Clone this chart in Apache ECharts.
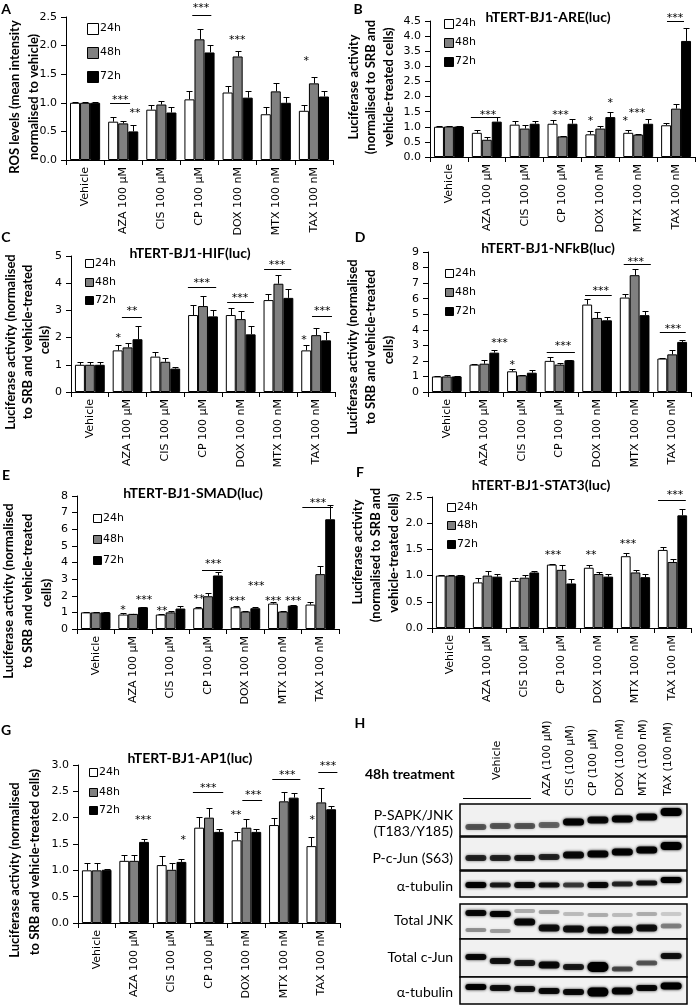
<!DOCTYPE html>
<html><head><meta charset="utf-8">
<script src="https://cdn.jsdelivr.net/npm/echarts@6/dist/echarts.min.js"></script>
<style>html,body{margin:0;padding:0;background:#fff}#c{width:696px;height:1005px}</style>
</head><body><div id="c"></div>
<script>
// ---------- DATA ----------
const categories = ['Vehicle','AZA 100 µM','CIS 100 µM','CP 100 µM','DOX 100 nM','MTX 100 nM','TAX 100 nM'];
const timepoints = ['24h','48h','72h'];

// A: ROS
const A_24 = [1.00,0.67,0.88,1.06,1.18,0.80,0.86];
const A_48 = [1.00,0.64,0.97,2.11,1.81,1.20,1.34];
const A_72 = [1.00,0.50,0.83,1.88,1.09,1.00,1.11];
const A_24err = [0.02,0.08,0.08,0.14,0.12,0.13,0.11];
const A_48err = [0.02,0.04,0.06,0.18,0.10,0.15,0.11];
const A_72err = [0.02,0.11,0.10,0.13,0.12,0.11,0.10];
const A_stars = [[0.92,1.10,'***'],[1.31,0.87,'**'],[3.04,2.71,'***'],[3.99,2.15,'***'],[5.80,1.78,'*']];
const A_lines = [[0.655,1.18,1.00],[2.81,3.31,2.53]];

// B: ARE
const B_24 = [1.00,0.80,1.07,1.10,0.75,0.80,1.05];
const B_48 = [1.01,0.57,0.94,0.68,0.94,0.74,1.60];
const B_72 = [1.01,1.17,1.10,1.10,1.32,1.10,3.84];
const B_24err = [0.01,0.08,0.12,0.11,0.10,0.10,0.07];
const B_48err = [0.02,0.09,0.11,0.03,0.09,0.01,0.14];
const B_72err = [0.02,0.17,0.09,0.17,0.17,0.15,0.43];
const B_stars = [[1.03,1.49,'***'],[2.95,1.49,'***'],[3.74,1.29,'*'],[4.26,1.89,'*'],[4.66,1.29,'*'],[4.97,1.56,'***'],[5.97,4.70,'***']];
const B_lines = [[0.58,1.29,1.32],[5.76,6.21,4.5]];

// C: HIF
const C_24 = [1.00,1.53,1.30,2.83,2.83,3.38,1.53];
const C_48 = [1.00,1.64,1.11,3.16,2.68,3.98,2.09];
const C_72 = [1.00,1.94,0.86,2.78,2.12,3.46,1.90];
const C_24err = [0.10,0.19,0.18,0.37,0.24,0.21,0.19];
const C_48err = [0.10,0.15,0.15,0.37,0.28,0.33,0.26];
const C_72err = [0.10,0.47,0.07,0.23,0.29,0.33,0.29];
const C_stars = [[0.75,2.10,'*'],[1.12,3.09,'**'],[2.97,4.12,'***'],[3.98,3.57,'***'],[4.96,4.78,'***'],[5.68,2.02,'*'],[6.16,3.09,'***']];
const C_lines = [[0.85,1.38,2.76],[2.60,3.35,3.86],[3.64,4.35,3.31],[4.62,5.34,4.52],[5.89,6.42,2.79]];

// D: NFkB
const D_24 = [1.00,1.76,1.33,2.00,5.62,6.07,2.15];
const D_48 = [1.00,1.82,1.07,1.76,4.76,7.51,2.42];
const D_72 = [1.00,2.53,1.24,2.04,4.61,4.94,3.22];
const D_24err = [0.05,0.06,0.13,0.25,0.35,0.26,0.06];
const D_48err = [0.12,0.22,0.02,0.13,0.39,0.37,0.31];
const D_72err = [0.05,0.15,0.15,0.04,0.22,0.25,0.15];
const D_stars = [[1.40,3.34,'***'],[1.74,1.93,'*'],[3.09,3.15,'***'],[4.10,6.68,'***'],[5.03,8.55,'***'],[6.02,4.24,'***']];
const D_lines = [[2.66,3.41,2.57],[3.68,4.39,6.24],[4.71,5.43,8.23],[5.67,6.36,3.86]];

// E: SMAD
const E_24 = [1.00,0.87,0.87,1.25,1.31,1.53,1.47];
const E_48 = [1.00,0.91,1.00,1.97,1.05,1.05,3.30];
const E_72 = [1.00,1.31,1.23,3.22,1.25,1.41,6.60];
const E_24err = [0.03,0.08,0.06,0.06,0.06,0.07,0.16];
const E_48err = [0.03,0.02,0.07,0.20,0.05,0.02,0.48];
const E_72err = [0.03,0.02,0.18,0.20,0.05,0.06,0.86];
const E_stars = [[0.73,1.33,'*'],[1.29,1.93,'***'],[1.77,1.27,'**'],[2.76,1.99,'**'],[3.14,4.10,'***'],[3.78,1.87,'***'],[4.29,2.77,'***'],[4.74,1.87,'***'],[5.28,1.87,'***'],[5.94,7.77,'***']];
const E_lines = [[2.84,3.40,3.55],[5.52,6.34,7.35]];

// F: STAT3
const F_24 = [1.00,0.87,0.90,1.21,1.15,1.37,1.49];
const F_48 = [1.00,1.00,0.96,1.11,1.03,1.06,1.26];
const F_72 = [1.00,0.98,1.06,0.85,0.98,0.97,2.15];
const F_24err = [0.02,0.08,0.06,0.01,0.05,0.07,0.05];
const F_48err = [0.02,0.09,0.05,0.09,0.03,0.04,0.05];
const F_72err = [0.02,0.05,0.02,0.09,0.05,0.06,0.13];
const F_stars = [[2.77,1.45,'***'],[3.80,1.45,'**'],[4.80,1.66,'***'],[6.07,2.60,'***']];
const F_lines = [[5.61,6.36,2.44]];

// G: AP1
const G_24 = [1.00,1.18,1.10,1.81,1.57,1.86,1.46];
const G_48 = [1.00,1.18,1.01,2.00,1.81,2.31,2.29];
const G_72 = [1.01,1.54,1.16,1.73,1.73,2.38,2.16];
const G_24err = [0.13,0.12,0.17,0.21,0.16,0.14,0.18];
const G_48err = [0.13,0.12,0.13,0.19,0.16,0.17,0.28];
const G_72err = [0.01,0.05,0.06,0.06,0.06,0.09,0.07];
const G_stars = [[1.24,2.01,'***'],[2.31,1.63,'*'],[2.98,2.62,'***'],[3.72,2.11,'**'],[4.18,2.49,'***'],[5.09,2.87,'***'],[5.76,2.01,'*'],[6.18,3.04,'***']];
const G_lines = [[2.57,3.38,2.49],[3.89,4.42,2.33],[4.69,5.44,2.73],[5.92,6.43,2.87]];

// H: western blot band intensities (0 = none, 1 = darkest), 9 lanes
const blotLanes = ['Vehicle','Vehicle','Vehicle','AZA (100 µM)','CIS (100 µM)','CP (100 µM)','DOX (100 nM)','MTX (100 nM)','TAX (100 nM)'];
const H_pSAPK   = [0.55,0.55,0.55,0.50,0.95,0.90,0.95,0.95,1.00];
const H_pcJun   = [0.75,0.75,0.80,0.75,0.90,0.95,0.95,0.95,1.00];
const H_tub1    = [0.95,0.80,0.90,0.85,0.65,0.90,0.75,0.85,1.00];
const H_JNKup   = [0.90,0.95,0.25,0.30,0.20,0.25,0.20,0.25,0.15];
const H_JNKlow  = [0.35,0.30,0.90,0.85,0.85,0.90,0.90,0.85,0.40];
const H_cJun    = [0.90,0.85,0.80,0.90,0.80,1.00,0.60,0.55,0.85];
const H_tub2    = [0.95,0.85,0.85,0.90,0.90,1.00,0.95,0.90,1.00];

// ---------- LAYOUT ----------
const FONT = 'DejaVu Sans';
const panels = [
  {d:[A_24,A_48,A_72,A_24err,A_48err,A_72err,A_stars,A_lines], g:[66,17,267,143], max:2.5, iv:0.5, dec:1, lg:[87,[28,52,76],11]},
  {d:[B_24,B_48,B_72,B_24err,B_48err,B_72err,B_stars,B_lines], g:[430,21,265,136], max:4.5, iv:0.5, dec:1, lg:[444,[23,42,61],9]},
  {d:[C_24,C_48,C_72,C_24err,C_48err,C_72err,C_stars,C_lines], g:[71,256,264,136], max:5, iv:1, dec:0, lg:[85,[263,282,300],8]},
  {d:[D_24,D_48,D_72,D_24err,D_48err,D_72err,D_stars,D_lines], g:[428,252,263,140], max:9, iv:1, dec:0, lg:[445,[273,292,311],8]},
  {d:[E_24,E_48,E_72,E_24err,E_48err,E_72err,E_stars,E_lines], g:[77,496,262,133], max:8, iv:1, dec:0, lg:[93,[518,539,560],8]},
  {d:[F_24,F_48,F_72,F_24err,F_48err,F_72err,F_stars,F_lines], g:[432,497,259,131], max:2.5, iv:0.5, dec:1, lg:[447,[507,525,544],8]},
  {d:[G_24,G_48,G_72,G_24err,G_48err,G_72err,G_stars,G_lines], g:[78,765,262,158], max:3.0, iv:0.5, dec:1, lg:[89,[772,792,810],8]}
];
const barColors = ['#ffffff','#808080','#000000'];
const BW = 0.79/3;

const option = {animation:false, grid:[], xAxis:[], yAxis:[], series:[], graphic:[]};
const G = option.graphic;
function txt(x,y,text,font,align,rot){
  G.push({type:'text', x:x, y:y, rotation:rot||0, silent:true,
    style:{text:text, font:font, fill:'#000', align:align||'center', verticalAlign:'middle'}});
}

panels.forEach((P, p) => {
  option.grid.push({left:P.g[0], top:P.g[1], width:P.g[2], height:P.g[3], containLabel:false});
  option.xAxis.push({type:'category', gridIndex:p, data:categories,
    axisLine:{onZero:false, lineStyle:{color:'#000', width:1}},
    axisTick:{show:true, length:5, lineStyle:{color:'#000'}},
    axisLabel:{rotate:90, interval:0, fontFamily:FONT, fontSize:11, color:'#000', margin:7},
    splitLine:{show:false}});
  option.xAxis.push({type:'value', gridIndex:p, min:-0.5, max:6.5, show:false, axisLine:{onZero:false}});
  option.yAxis.push({type:'value', gridIndex:p, min:0, max:P.max, interval:P.iv,
    axisLine:{show:true, onZero:false, lineStyle:{color:'#000', width:1}},
    axisTick:{show:true, length:5, lineStyle:{color:'#000'}},
    axisLabel:{fontFamily:FONT, fontSize:11, color:'#000', margin:9, formatter:v=>v.toFixed(P.dec)},
    splitLine:{show:false}});
  const [v24,v48,v72,e24,e48,e72,stars,lines] = P.d;
  const vals=[v24,v48,v72], errs=[e24,e48,e72];
  vals.forEach((v,k)=>{
    option.series.push({type:'bar', name:timepoints[k], xAxisIndex:2*p, yAxisIndex:p, data:v,
      barGap:'0%', barCategoryGap:'21%', silent:true,
      itemStyle:{color:barColors[k], borderColor:'#000', borderWidth:1}});
  });
  const errData=[];
  vals.forEach((v,k)=>v.forEach((m,i)=>errData.push([i+(k-1)*BW, m, m+errs[k][i]])));
  option.series.push({type:'custom', xAxisIndex:2*p+1, yAxisIndex:p, data:errData, silent:true, clip:false, z:5,
    itemStyle:{color:'#000'},
    renderItem:(params, api)=>{
      const a=api.coord([api.value(0),api.value(1)]), b=api.coord([api.value(0),api.value(2)]);
      const x=Math.round(a[0])+0.5, yb=Math.round(b[1])+0.5;
      return {type:'group', children:[
        {type:'line', shape:{x1:x,y1:a[1],x2:x,y2:yb}, style:{stroke:'#000',lineWidth:1}},
        {type:'line', shape:{x1:x-3,y1:yb,x2:x+3,y2:yb}, style:{stroke:'#000',lineWidth:1}}]};
    }});
  option.series.push({type:'custom', xAxisIndex:2*p+1, yAxisIndex:p, data:stars.map(s=>[s[0],s[1]]), silent:true, clip:false, z:6,
    itemStyle:{color:'#000'},
    renderItem:(params, api)=>{
      const c=api.coord([api.value(0),api.value(1)]);
      return {type:'text', x:c[0], y:c[1]+3, style:{text:stars[params.dataIndex][2], font:'11px "DejaVu Sans"', fill:'#000',
        align:'center', verticalAlign:'middle'}};
    }});
  option.series.push({type:'custom', xAxisIndex:2*p+1, yAxisIndex:p, data:lines, silent:true, clip:false, z:6,
    itemStyle:{color:'#000'},
    renderItem:(params, api)=>{
      const a=api.coord([api.value(0),api.value(2)]), b=api.coord([api.value(1),api.value(2)]);
      const y=Math.round(a[1])+0.5;
      return {type:'line', shape:{x1:a[0],y1:y,x2:b[0],y2:y}, style:{stroke:'#000',lineWidth:1}};
    }});
  // legend keys
  const lx=P.lg[0], s=P.lg[2];
  P.lg[1].forEach((yc,k)=>{
    G.push({type:'rect', silent:true, shape:{x:lx+0.5, y:Math.round(yc-s/2)+0.5, width:s, height:s},
      style:{fill:barColors[k], stroke:'#000', lineWidth:1}});
    txt(lx+s+2, yc, timepoints[k], '11px "DejaVu Sans"', 'left');
  });
});

// ---------- BLOT (panel H) ----------
const blotRows = [
  {v:H_pSAPK,  y:[23,22,22,21,18,16,15,13,8],         h:[6,6,6,6,7,7,7,7,8]},
  {v:H_pcJun,  y:[54,54,54,53,51,50,48,46,42],         h:[6,6,6,6,7,7,7,7,8]},
  {v:H_tub1,   y:[81,81,81,81,81,81,80,79,76],         h:[6,5,6,5,5,6,5,5,6]},
  {v:H_JNKup,  y:[109,110,107,108,110,111,111,110,110],h:[6,6,4,4,4,4,4,4,4]},
  {v:H_JNKlow, y:[126,127,118,124,125,126,126,124,122],h:[4,4,7,7,7,7,7,7,5]},
  {v:H_cJun,   y:[153,157,159,161,163,163,165,159,152],h:[6,6,6,7,6,10,5,5,6]},
  {v:H_tub2,   y:[183,184,185,187,188,188,187,184,182],h:[6,6,6,6,6,9,7,6,7]}
];
const blotBoxes = [[0,32],[33,66],[67,93],[100,135],[135,173],[173,200]];
option.grid.push({left:460, top:804, width:227, height:201});
option.xAxis.push({type:'value', gridIndex:7, min:0.35, max:9.65, show:false, axisLine:{onZero:false}});
option.yAxis.push({type:'value', gridIndex:7, min:0, max:201, inverse:true, show:false, axisLine:{onZero:false}});
option.series.push({type:'custom', xAxisIndex:14, yAxisIndex:7, data:blotBoxes, silent:true, clip:false, z:1,
  renderItem:(params, api)=>{
    const a=api.coord([0.35,api.value(0)]), b=api.coord([9.65,api.value(1)]);
    return {type:'rect', shape:{x:a[0],y:a[1],width:b[0]-a[0],height:b[1]-a[1]}, style:{fill:'#f1f1f1',stroke:'#000',lineWidth:1.5}};
  }});
const bandData=[], bandH=[];
blotRows.forEach(r=>r.v.forEach((val,i)=>{bandData.push([i+1, r.y[i], val]); bandH.push(r.h[i]);}));
option.series.push({type:'custom', xAxisIndex:14, yAxisIndex:7, data:bandData, silent:true, clip:false, z:2,
  renderItem:(params, api)=>{
    const c=api.coord([api.value(0),api.value(1)]), a=api.value(2), h=bandH[params.dataIndex];
    const col='rgba(0,0,0,'+a+')';
    return {type:'rect', shape:{x:c[0]-10.5,y:c[1]-h/2,width:21,height:h,r:h/2},
      style:{fill:col, shadowBlur:3, shadowColor:col}};
  }});

// ---------- TEXT ----------
const letterFont = 'bold 14px Lato';
[['A',6,9],['B',358,9],['C',6,237],['D',360,237],['E',6,475],['F',360,472],['G',6,730],['H',360,723]].forEach(l=>txt(l[1],l[2],l[0],letterFont));
const titleFont = 'bold 14px Lato';
[['hTERT-BJ1-ARE(luc)',548,17],['hTERT-BJ1-HIF(luc)',190,253],['hTERT-BJ1-NFkB(luc)',548,248],
 ['hTERT-BJ1-SMAD(luc)',193,493],['hTERT-BJ1-STAT3(luc)',541,485],['hTERT-BJ1-AP1(luc)',190,758]].forEach(t=>txt(t[1],t[2],t[0],titleFont));
const yt = 'bold 13px Lato', R = Math.PI/2;
[[15,97,'ROS levels (mean intensity'],[34,97,'normalised to vehicle)'],
 [354,87,'Luciferase activity'],[371,87,'(normalised to SRB and'],[389,87,'vehicle-treated cells)'],
 [11,342,'Luciferase activity (normalised'],[28,342,'to SRB and vehicle-treated'],[45,340,'cells)'],
 [353,347,'Luciferase activity (normalised'],[371,347,'to SRB and vehicle-treated'],[389,350,'cells)'],
 [9,591,'Luciferase activity (normalised'],[28,591,'to SRB and vehicle-treated'],[47,593,'cells)'],
 [358,552,'Luciferase activity'],[376,555,'(normalised to SRB and'],[394,553,'vehicle-treated cells)'],
 [15,870,'Luciferase activity (normalised'],[35,862,'to SRB and vehicle-treated cells)']
].forEach(t=>txt(t[0],t[1],t[2],yt,'center',R));

// blot labels
txt(365,774,'48h treatment','bold 14px Lato','left');
const rowFont = '14px Lato';
[['P-SAPK/JNK',815],['(T183/Y185)',831],['P-c-Jun (S63)',858],['α-tubulin',886],['Total JNK',920],['Total c-Jun',957],['α-tubulin',992]]
  .forEach(r=>txt(453,r[1],r[0],rowFont,'right'));
const laneFont = '11px "DejaVu Sans"';
txt(497,780,'Vehicle',laneFont,'left',R);
[[547,3],[570,4],[593,5],[620,6],[643,7],[668,8]].forEach(l=>txt(l[0],796,blotLanes[l[1]],laneFont,'left',R));
G.push({type:'line', silent:true, shape:{x1:463,y1:798.5,x2:531,y2:798.5}, style:{stroke:'#000',lineWidth:1}});

const chart = echarts.init(document.getElementById('c'), null, {renderer:'canvas', width:696, height:1005});
chart.setOption(option);
</script>
</body></html>
